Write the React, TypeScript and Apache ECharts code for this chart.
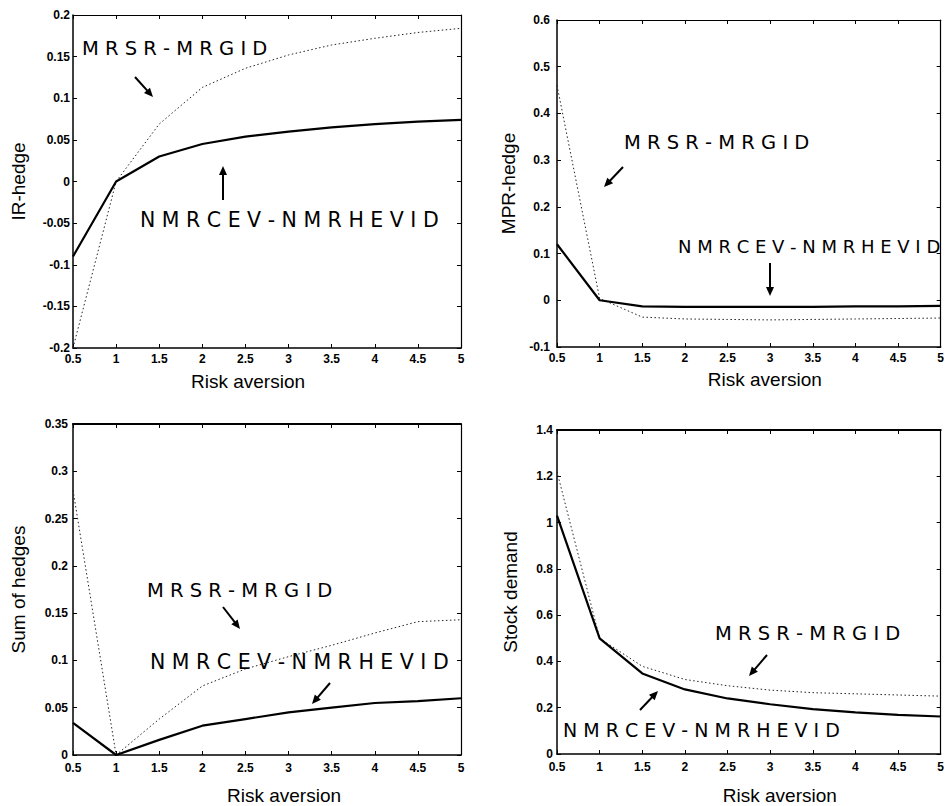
import React, { useEffect, useRef } from "react";
import * as echarts from "echarts";

// ---- data ----
const riskAversion = [0.5, 1, 1.5, 2, 2.5, 3, 3.5, 4, 4.5, 5];

const irNMRCEV = [-0.09, 0, 0.03, 0.045, 0.054, 0.06, 0.065, 0.069, 0.072, 0.074];
const irMRSR = [-0.2, 0, 0.069, 0.113, 0.136, 0.152, 0.164, 0.172, 0.179, 0.184];

const mprNMRCEV = [0.12, 0.0, -0.013, -0.014, -0.014, -0.014, -0.014, -0.013, -0.013, -0.012];
const mprMRSR = [0.46, 0.004, -0.036, -0.04, -0.041, -0.042, -0.041, -0.04, -0.039, -0.038];

const sumNMRCEV = [0.034, 0, 0.016, 0.031, 0.038, 0.045, 0.05, 0.055, 0.057, 0.06];
const sumMRSR = [0.28, 0, 0.038, 0.073, 0.091, 0.104, 0.116, 0.129, 0.141, 0.143];

const stockNMRCEV = [1.03, 0.5, 0.348, 0.279, 0.24, 0.215, 0.194, 0.18, 0.169, 0.162];
const stockMRSR = [1.22, 0.5, 0.379, 0.322, 0.295, 0.276, 0.265, 0.26, 0.255, 0.25];

const xTitle = "Risk aversion";
const yTitles = ["IR-hedge", "MPR-hedge", "Sum of hedges", "Stock demand"];
const labelMRSR = "M R S R - M R G I D";
const labelNMRCEV = "N M R C E V - N M R H E V I D";

const yRanges = [
  { min: -0.2, max: 0.2, interval: 0.05 },
  { min: -0.1, max: 0.6, interval: 0.1 },
  { min: 0, max: 0.35, interval: 0.05 },
  { min: 0, max: 1.4, interval: 0.2 },
];

const panels = [
  { solid: irNMRCEV, dotted: irMRSR },
  { solid: mprNMRCEV, dotted: mprMRSR },
  { solid: sumNMRCEV, dotted: sumMRSR },
  { solid: stockNMRCEV, dotted: stockMRSR },
];

// ---- layout ----
const grids = [
  { left: 73, top: 15, width: 388, height: 333 },
  { left: 557, top: 20, width: 386, height: 327 },
  { left: 73, top: 424, width: 388, height: 332 },
  { left: 557, top: 430, width: 386, height: 326 },
];
const xNameGap = [24, 23, 31, 32];
const xNamePad = [
  [0, 38, 0, 0],
  [0, 0, 0, 32],
  [0, 0, 0, 34],
  [0, 0, 0, 62],
];
const yNameGap = [45, 39, 45, 37];
const yLabelMargin = [3, 7, 5, 4];
const xLabelMargin = [5, 5, 7, 7];

const tickFont = {
  color: "#000",
  fontFamily: "'Liberation Sans', Arial, sans-serif",
  fontWeight: "bold" as const,
  fontSize: 12,
};
const titleFont = {
  color: "#000",
  fontFamily: "'Liberation Sans', Arial, sans-serif",
  fontSize: 19,
};
const annFont = "'DejaVu Sans', sans-serif";

function arrow(x1: number, y1: number, x2: number, y2: number) {
  const dx = x2 - x1;
  const dy = y2 - y1;
  const len = Math.sqrt(dx * dx + dy * dy);
  const ux = dx / len;
  const uy = dy / len;
  const nx = -uy;
  const ny = ux;
  const L = 9;
  const W = 4;
  const bx = x2 - ux * L;
  const by = y2 - uy * L;
  return [
    {
      type: "line",
      shape: { x1, y1, x2: x2 - ux * L * 0.5, y2: y2 - uy * L * 0.5 },
      style: { stroke: "#000", lineWidth: 2 },
    },
    {
      type: "polygon",
      shape: {
        points: [
          [x2, y2],
          [bx + nx * W, by + ny * W],
          [bx - nx * W, by - ny * W],
        ],
      },
      style: { fill: "#000" },
    },
  ];
}

function label(text: string, x: number, y: number, size: number) {
  return {
    type: "text",
    x,
    y,
    style: {
      text,
      fill: "#000",
      font: `${size}px ${annFont}`,
      textVerticalAlign: "middle",
      verticalAlign: "middle",
    },
  };
}

export default function App() {
  const ref = useRef<HTMLDivElement>(null);
  useEffect(() => {
    if (!ref.current) return;
    const chart = echarts.init(ref.current, undefined, { renderer: "svg" });

    const xAxes: any[] = [];
    const yAxes: any[] = [];
    const series: any[] = [];

    grids.forEach((g, i) => {
      const yr = yRanges[i];
      const baseX = {
        type: "value",
        gridIndex: i,
        min: 0.5,
        max: 5,
        interval: 0.5,
        splitLine: { show: false },
        axisLine: { show: true, onZero: false, lineStyle: { color: "#000", width: 1.5 } },
        axisTick: { show: true, inside: true, length: 4, lineStyle: { color: "#000" } },
      };
      xAxes.push({
        ...baseX,
        position: "bottom",
        name: xTitle,
        nameLocation: "middle",
        nameGap: xNameGap[i],
        nameTextStyle: { ...titleFont, padding: xNamePad[i] },
        axisLabel: { ...tickFont, margin: xLabelMargin[i] },
      });
      xAxes.push({
        ...baseX,
        position: "top",
        axisLabel: { show: false },
        axisLine: {
          show: true,
          onZero: false,
          lineStyle: { color: "#000", width: i >= 2 ? 2 : 1.2 },
        },
      });
      const baseY = {
        type: "value",
        gridIndex: i,
        min: yr.min,
        max: yr.max,
        interval: yr.interval,
        splitLine: { show: false },
        axisLine: { show: true, onZero: false, lineStyle: { color: "#000", width: 1.5 } },
        axisTick: { show: true, inside: true, length: 4, lineStyle: { color: "#000" } },
      };
      yAxes.push({
        ...baseY,
        position: "left",
        name: yTitles[i],
        nameLocation: "middle",
        nameGap: yNameGap[i],
        nameTextStyle: titleFont,
        axisLabel: { ...tickFont, margin: yLabelMargin[i] },
      });
      yAxes.push({
        ...baseY,
        position: "right",
        axisLabel: { show: false },
        axisLine: { show: true, onZero: false, lineStyle: { color: "#000", width: 1.2 } },
      });

      const p = panels[i];
      series.push({
        type: "line",
        name: "MRSR-MRGID",
        xAxisIndex: i * 2,
        yAxisIndex: i * 2,
        showSymbol: false,
        symbol: "none",
        data: riskAversion.map((x, k) => [x, p.dotted[k]]),
        lineStyle: { color: "#222", width: 1, type: [1.5, 2.5] },
        z: 2,
      });
      series.push({
        type: "line",
        name: "NMRCEV-NMRHEVID",
        xAxisIndex: i * 2,
        yAxisIndex: i * 2,
        showSymbol: false,
        symbol: "none",
        data: riskAversion.map((x, k) => [x, p.solid[k]]),
        lineStyle: { color: "#000", width: 2.2 },
        z: 3,
      });
    });

    const graphic: any[] = [
      // panel 1
      label(labelMRSR, 82, 48, 19.5),
      ...arrow(135, 77, 153, 97),
      label(labelNMRCEV, 140, 220, 20.5),
      ...arrow(223, 200, 223, 166),
      // panel 2
      label(labelMRSR, 624, 142, 19.5),
      ...arrow(623, 167, 604, 187),
      label(labelNMRCEV, 678, 246, 18),
      ...arrow(770, 263, 770, 296),
      // panel 3
      label(labelMRSR, 147, 590, 19.5),
      ...arrow(223, 607, 240, 629),
      label(labelNMRCEV, 150, 662, 20.5),
      ...arrow(330, 683, 312, 704),
      // panel 4
      label(labelMRSR, 715, 633, 19.5),
      ...arrow(767, 655, 749, 676),
      label(labelNMRCEV, 563, 730, 19),
      ...arrow(640, 710, 658, 691),
    ];

    chart.setOption({
      animation: false,
      backgroundColor: "#fff",
      grid: grids.map((g) => ({ ...g, containLabel: false })),
      xAxis: xAxes,
      yAxis: yAxes,
      series,
      graphic,
    });
    return () => chart.dispose();
  }, []);
  return (
    <div
      ref={ref}
      style={{ position: "fixed", left: 0, top: 0, width: 947, height: 806, background: "#fff" }}
    />
  );
}
